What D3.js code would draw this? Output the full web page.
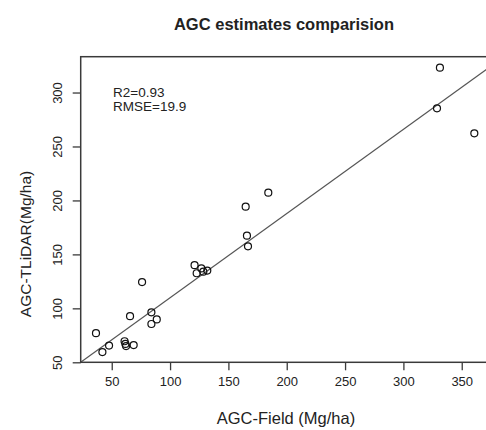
<!DOCTYPE html>
<html>
<head>
<meta charset="utf-8">
<script src="https://cdn.jsdelivr.net/npm/d3@7/dist/d3.min.js"></script>
<style>
  html, body { margin: 0; padding: 0; background: #fff; }
  svg { display: block; }
  text { font-family: "Liberation Sans", Arial, sans-serif; fill: #222; }
</style>
</head>
<body>
<svg id="chart" width="486" height="430"></svg>
<script>
// ---- data ----
const fieldAGC  = [36.5, 42, 47.7, 61, 61.7, 62.3, 68.8, 65.7, 76, 84, 88.6, 84,
                   121, 122.8, 126.8, 128.5, 131.9, 164.8, 165.9, 166.8, 184.2,
                   328.8, 331.3, 360.8];
const tlidarAGC = [77, 59.5, 65.5, 69.5, 67, 65, 66, 92.7, 124.3, 96.3, 89.7, 85.5,
                   140, 132.5, 137, 134, 135, 194.2, 167.3, 157.5, 207.2,
                   285.4, 323, 262.2];
const xTicks = [50, 100, 150, 200, 250, 300, 350];
const yTicks = [50, 100, 150, 200, 250, 300];
const fitIntercept = 31.8;
const fitSlope = 0.78;
const titleText = "AGC estimates comparision";
const xLabel = "AGC-Field (Mg/ha)";
const yLabel = "AGC-TLiDAR(Mg/ha)";
const statLines = ["R2=0.93", "RMSE=19.9"];

(function () {
// ---- layout ----
const svg = d3.select("#chart");
const pL = 80.7, pT = 56.7, pB = 362.3, pR = 486;
const x = d3.scaleLinear().domain([23.4, 370.8]).range([pL, pR]);
const y = d3.scaleLinear().domain([50, 333.2]).range([pB, pT]);

// clip
svg.append("defs").append("clipPath").attr("id", "clip")
  .append("rect").attr("x", pL).attr("y", pT)
  .attr("width", pR - pL).attr("height", pB - pT);

// regression line
const xd = x.domain();
svg.append("line")
  .attr("clip-path", "url(#clip)")
  .attr("x1", x(xd[0] - 20)).attr("y1", y(fitIntercept + fitSlope * (xd[0] - 20)))
  .attr("x2", x(xd[1] + 20)).attr("y2", y(fitIntercept + fitSlope * (xd[1] + 20)))
  .attr("stroke", "#555").attr("stroke-width", 1.2);

// points
svg.append("g").selectAll("circle")
  .data(fieldAGC.map((v, i) => [v, tlidarAGC[i]]))
  .join("circle")
  .attr("cx", d => x(d[0])).attr("cy", d => y(d[1])).attr("r", 3.5)
  .attr("fill", "none").attr("stroke", "#111").attr("stroke-width", 1.2);

// box
svg.append("rect")
  .attr("x", pL).attr("y", pT)
  .attr("width", pR - pL + 5).attr("height", pB - pT)
  .attr("fill", "none").attr("stroke", "#3a3a3a").attr("stroke-width", 1.5);

// x axis
const xAxis = svg.append("g").attr("transform", `translate(0,${pB})`)
  .call(d3.axisBottom(x).tickValues(xTicks).tickSize(8).tickPadding(6).tickSizeOuter(0));
xAxis.select(".domain").remove();
xAxis.selectAll(".tick line").attr("stroke", "#3a3a3a").attr("stroke-width", 1.3);
xAxis.selectAll(".tick text").attr("font-size", 13).attr("fill", "#222")
  .attr("font-family", "Liberation Sans, Arial, sans-serif");

// y axis
const yAxis = svg.append("g").attr("transform", `translate(${pL},0)`)
  .call(d3.axisLeft(y).tickValues(yTicks).tickSize(8).tickSizeOuter(0));
yAxis.select(".domain").remove();
yAxis.selectAll(".tick line").attr("stroke", "#3a3a3a").attr("stroke-width", 1.3);
yAxis.selectAll(".tick text").remove();
yAxis.selectAll(".tick").append("text")
  .attr("transform", "translate(-19,0) rotate(-90)")
  .attr("text-anchor", "middle").attr("dy", "0")
  .attr("font-size", 13).attr("fill", "#222")
  .attr("font-family", "Liberation Sans, Arial, sans-serif")
  .text(d => d);

// title
svg.append("text").attr("x", 284).attr("y", 30)
  .attr("text-anchor", "middle").attr("font-size", 16.5).attr("font-weight", "bold")
  .attr("fill", "#111").text(titleText);

// axis labels
svg.append("text").attr("x", 286).attr("y", 424)
  .attr("text-anchor", "middle").attr("font-size", 16.5).text(xLabel);
svg.append("text").attr("transform", "translate(31,244) rotate(-90)")
  .attr("text-anchor", "middle").attr("font-size", 15.5).text(yLabel);

// stats
svg.append("g").selectAll("text").data(statLines).join("text")
  .attr("x", 113).attr("y", (d, i) => 97 + i * 13.5)
  .attr("font-size", 13.5).text(d => d);
})();
</script>
</body>
</html>
